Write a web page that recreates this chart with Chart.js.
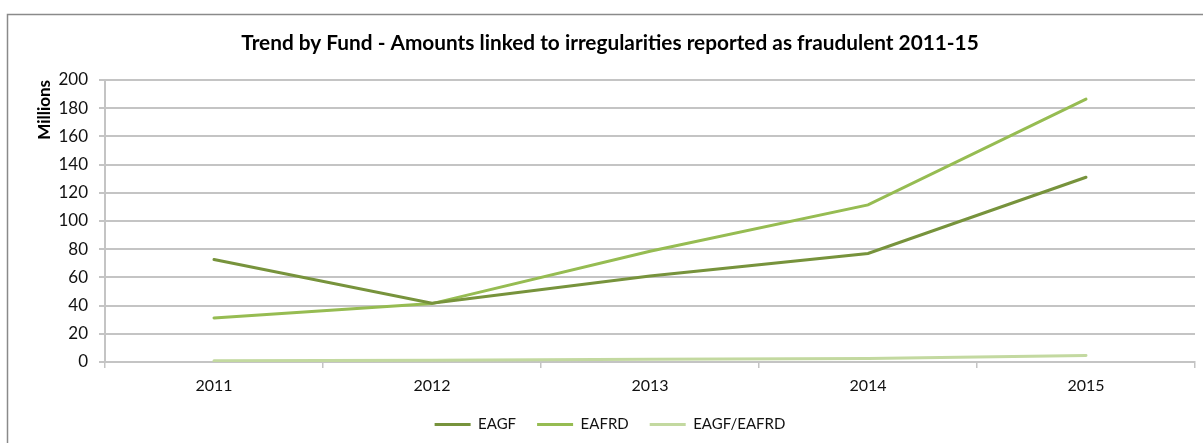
<!DOCTYPE html>
<html>
<head>
<meta charset="utf-8">
<script src="https://cdn.jsdelivr.net/npm/chart.js@4/dist/chart.umd.min.js"></script>
<style>
  html, body { margin: 0; padding: 0; background: #fff; }
  #wrap { position: relative; width: 1203px; height: 443px; }
</style>
</head>
<body>
<div id="wrap"><canvas id="c" width="1203" height="443"></canvas></div>
<script>
const categories = ['2011', '2012', '2013', '2014', '2015'];
const eagf = [72.7, 41.6, 61, 77, 131];
const eafrd = [31.2, 41.4, 78.5, 111.4, 186.4];
const eagfEafrd = [0.8, 1.2, 2, 2.4, 4.6];
const seriesNames = ['EAGF', 'EAFRD', 'EAGF/EAFRD'];
const yTicks = { min: 0, max: 200, step: 20 };
const titleText = 'Trend by Fund - Amounts linked to irregularities reported as fraudulent 2011-15';
const yTitle = 'Millions';

const FONT = 'Lato, "Open Sans", "Liberation Sans", sans-serif';
const gridColor = '#c4c4c4';

const frame = {
  id: 'frame',
  beforeDraw(chart) {
    const ctx = chart.ctx;
    ctx.save();
    ctx.fillStyle = '#fff';
    ctx.fillRect(0, 0, chart.width, chart.height);
    ctx.strokeStyle = '#8a8a8a';
    ctx.lineWidth = 1.5;
    ctx.strokeRect(7.5, 14.5, 1400, 600);
    ctx.restore();
  }
};

new Chart(document.getElementById('c'), {
  type: 'line',
  data: {
    labels: categories,
    datasets: [
      { label: seriesNames[0], data: eagf, borderColor: '#77933C', backgroundColor: '#77933C', borderWidth: 3 },
      { label: seriesNames[1], data: eafrd, borderColor: '#96BC52', backgroundColor: '#96BC52', borderWidth: 3 },
      { label: seriesNames[2], data: eagfEafrd, borderColor: '#C3D9A0', backgroundColor: '#C3D9A0', borderWidth: 3 }
    ]
  },
  options: {
    responsive: false,
    animation: false,
    devicePixelRatio: 1,
    layout: { padding: { left: 25, right: 8, top: 0, bottom: 1 } },
    elements: { point: { radius: 0, hoverRadius: 0 }, line: { tension: 0, borderCapStyle: 'round' } },
    plugins: {
      title: {
        display: true,
        text: titleText,
        color: '#000',
        font: { family: FONT, size: 20.8, weight: 'bold' },
        padding: { top: 31, bottom: 24 }
      },
      legend: {
        display: true,
        position: 'bottom',
        labels: {
          usePointStyle: true,
          pointStyle: 'line',
          pointStyleWidth: 36,
          padding: 21,
          color: '#111',
          font: { family: FONT, size: 15 }
        }
      },
      tooltip: { enabled: false }
    },
    scales: {
      x: {
        offset: true,
        grid: { offset: true, drawOnChartArea: false, drawTicks: true, tickLength: 6, color: gridColor, lineWidth: 1.5 },
        border: { display: true, color: gridColor, width: 2 },
        ticks: { color: '#111', font: { family: FONT, size: 16 }, padding: 8, maxRotation: 0 },
        afterFit(scale) { scale.height = 34; }
      },
      y: {
        min: yTicks.min,
        max: yTicks.max,
        ticks: { stepSize: yTicks.step, color: '#111', font: { family: FONT, size: 17 }, padding: 11 },
        grid: { color: gridColor, lineWidth: 2, tickLength: 6 },
        border: { display: true, color: gridColor, width: 2 },
        title: {
          display: true,
          text: yTitle,
          align: 'end',
          color: '#000',
          font: { family: FONT, size: 17, weight: 'bold' },
          padding: { top: 9, bottom: 0 }
        },
        afterFit(scale) { scale.width = 80; }
      }
    }
  },
  plugins: [frame]
});
</script>
</body>
</html>
